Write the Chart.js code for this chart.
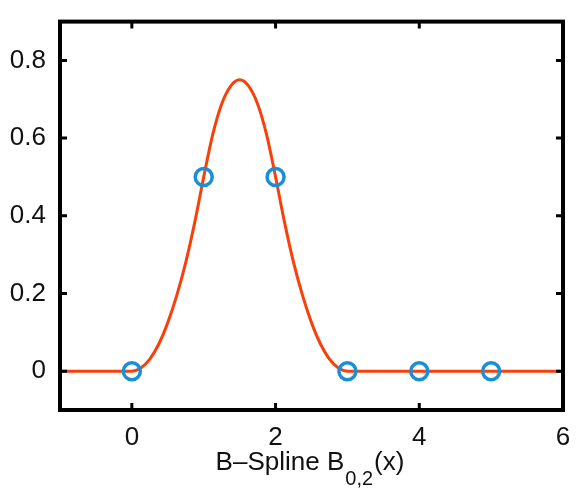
<!DOCTYPE html>
<html>
<head>
<meta charset="utf-8">
<script src="https://cdn.jsdelivr.net/npm/chart.js@4"></script>
<style>
  html, body { margin: 0; padding: 0; background: #fff; }
  #wrap { width: 582px; height: 489px; }
</style>
</head>
<body>
<div id="wrap"><canvas id="splineChart"></canvas></div>
<script>
// curve samples
const curveX = [-1, -0.5, 0, 0.125, 0.25, 0.375, 0.5, 0.625, 0.75, 0.875, 1, 1.125, 1.25, 1.375, 1.5,
                1.625, 1.75, 1.875, 2, 2.125, 2.25, 2.375, 2.5, 2.625, 2.75, 2.875, 3, 4, 5, 6];
const curveY = [0, 0, 0, 0.008, 0.031, 0.07, 0.125, 0.195, 0.28, 0.383, 0.5, 0.609, 0.688, 0.734, 0.75,
                0.734, 0.688, 0.609, 0.5, 0.383, 0.28, 0.195, 0.125, 0.07, 0.031, 0.008, 0, 0, 0, 0];
// circle markers
const knotX = [0, 1, 2, 3, 4, 5];
const knotY = [0, 0.5, 0.5, 0, 0, 0];
// ticks
const xTicks = [0, 2, 4, 6];
const yTicks = [0, 0.2, 0.4, 0.6, 0.8];

const tickFont = { family: 'Liberation Sans, Arial, sans-serif', size: 26 };

const framePlugin = {
    id: 'frame',
    afterDraw(chart) {
        const { ctx, chartArea: a, scales } = chart;
        ctx.save();
        ctx.strokeStyle = '#000';
        ctx.lineWidth = 4;
        ctx.strokeRect(a.left, a.top, a.right - a.left, a.bottom - a.top);
        // inward ticks on all four sides
        ctx.lineWidth = 3;
        ctx.beginPath();
        xTicks.forEach(v => {
            const px = scales.x.getPixelForValue(v);
            ctx.moveTo(px, a.bottom); ctx.lineTo(px, a.bottom - 7);
            ctx.moveTo(px, a.top); ctx.lineTo(px, a.top + 7);
        });
        yTicks.forEach(v => {
            const py = scales.y.getPixelForValue(v);
            ctx.moveTo(a.left, py); ctx.lineTo(a.left + 7, py);
            ctx.moveTo(a.right, py); ctx.lineTo(a.right - 7, py);
        });
        ctx.stroke();

        // axis label with subscript
        ctx.fillStyle = '#111';
        ctx.textBaseline = 'alphabetic';
        ctx.textAlign = 'left';
        const big = '26px Liberation Sans, Arial, sans-serif';
        const small = '20px Liberation Sans, Arial, sans-serif';
        const p1 = 'B\u2013Spline B', p2 = '0,2', p3 = '(x)';
        ctx.font = big; const w1 = ctx.measureText(p1).width, w3 = ctx.measureText(p3).width;
        ctx.font = small; const w2 = ctx.measureText(p2).width;
        let x = 311 - (w1 + w2 + w3) / 2 - 2;
        const base = 470;
        ctx.font = big; ctx.fillText(p1, x, base); x += w1 + 1;
        ctx.font = small; ctx.fillText(p2, x, base + 15); x += w2 + 1;
        ctx.font = big; ctx.fillText(p3, x, base);
        ctx.restore();
    }
};

new Chart(document.getElementById('splineChart'), {
    type: 'scatter',
    data: {
        datasets: [
            {
                label: 'B-Spline',
                data: curveX.map((x, i) => ({ x: x, y: curveY[i] })),
                showLine: true,
                borderColor: '#f8400c',
                borderWidth: 3,
                pointRadius: 0,
                cubicInterpolationMode: 'monotone',
                order: 2
            },
            {
                label: 'knots',
                data: knotX.map((x, i) => ({ x: x, y: knotY[i] })),
                showLine: false,
                pointRadius: 8.5,
                pointBorderWidth: 3.5,
                pointBorderColor: '#1a8ed6',
                pointBackgroundColor: 'rgba(0,0,0,0)',
                order: 1
            }
        ]
    },
    options: {
        responsive: true,
        maintainAspectRatio: false,
        animation: false,
        layout: { padding: { top: 14, right: 19, left: 0, bottom: 0 } },
        plugins: { legend: { display: false }, tooltip: { enabled: false } },
        scales: {
            x: {
                type: 'linear',
                min: -1, max: 6,
                grid: { display: false },
                border: { display: false },
                afterFit(s) { s.height = 79; },
                afterBuildTicks(s) { s.ticks = xTicks.map(v => ({ value: v })); },
                ticks: { color: '#111', font: tickFont, padding: 4 }
            },
            y: {
                type: 'linear',
                min: -0.1, max: 0.9,
                grid: { display: false },
                border: { display: false },
                afterFit(s) { s.width = 60; },
                afterBuildTicks(s) { s.ticks = yTicks.map(v => ({ value: v })); },
                ticks: { color: '#111', font: tickFont, padding: 6, callback: v => v === 0 ? '0' : v.toFixed(1) }
            }
        }
    },
    plugins: [framePlugin]
});
</script>
</body>
</html>
